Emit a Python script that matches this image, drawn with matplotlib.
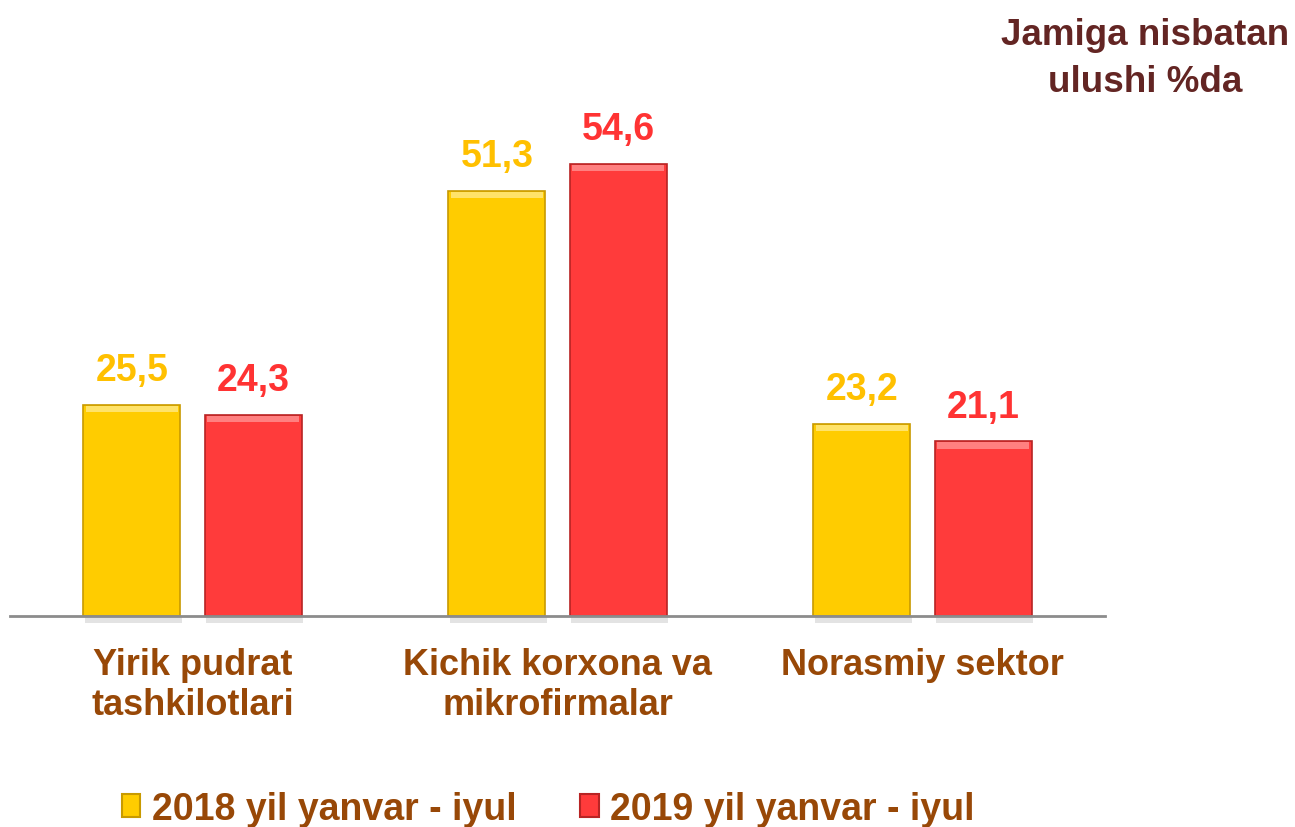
import numpy as np
import matplotlib.pyplot as plt
from matplotlib.patches import Rectangle

# Ma'lumotlar
categories = ['Yirik pudrat\ntashkilotlari', 'Kichik korxona va\nmikrofirmalar', 'Norasmiy sektor']
series_names = ['2018 yil yanvar - iyul', '2019 yil yanvar - iyul']
values_2018 = [25.5, 51.3, 23.2]
values_2019 = [24.3, 54.6, 21.1]
labels_2018 = ['25,5', '51,3', '23,2']
labels_2019 = ['24,3', '54,6', '21,1']

plt.rcParams['font.family'] = ['Liberation Sans', 'DejaVu Sans']

yellow, yellow_edge = '#FFCC00', '#C89A00'
red, red_edge = '#FF3B3B', '#B82424'
yellow_txt, red_txt = '#FFC000', '#FF3333'
brown = '#984807'

fig = plt.figure(figsize=(12.95, 8.28), dpi=100)
ax = fig.add_axes([10 / 1295, 1 - 617 / 828, 1095 / 1295, 517 / 828])

x = np.arange(len(categories))
w = 0.266
off = 0.166

# Soyalar (bar ostidagi kulrang soya)
for xs in (x - off, x + off):
    for xi in xs:
        ax.add_patch(Rectangle((xi - w / 2 + 0.004, -0.8), w, 0.8, color='#C8C8C8',
                               alpha=0.5, lw=0, zorder=1, clip_on=False))

b1 = ax.bar(x - off, values_2018, w, color=yellow, edgecolor=yellow_edge, lw=1.2, zorder=2)
b2 = ax.bar(x + off, values_2019, w, color=red, edgecolor=red_edge, lw=1.2, zorder=2)

# yorug' qirra (bevel effekti)
for bars, light in ((b1, '#FFE36A'), (b2, '#FF8080')):
    for b in bars:
        bx, bw, bh = b.get_x(), b.get_width(), b.get_height()
        ax.add_patch(Rectangle((bx + 0.006, bh - 0.9), bw - 0.012, 0.75, color=light,
                               lw=0, zorder=3))

for xi, v, t in zip(x - off, values_2018, labels_2018):
    ax.text(xi, v + 2.0, t, ha='center', va='bottom', fontsize=27,
            fontweight='bold', color=yellow_txt)
for xi, v, t in zip(x + off, values_2019, labels_2019):
    ax.text(xi, v + 2.0, t, ha='center', va='bottom', fontsize=27,
            fontweight='bold', color=red_txt)

ax.set_xlim(-0.5, 2.5)
ax.set_ylim(0, 62.4)
for s in ['top', 'right', 'left']:
    ax.spines[s].set_visible(False)
ax.spines['bottom'].set_color('#8C8C8C')
ax.spines['bottom'].set_linewidth(2)
ax.set_yticks([])
ax.set_xticks(x)
ax.set_xticklabels(categories, fontsize=26, fontweight='bold', color=brown, linespacing=1.22)
ax.tick_params(axis='x', length=0, pad=22)

fig.text(1145 / 1295, 1 - 59 / 828, 'Jamiga nisbatan\nulushi %da', ha='center', va='center',
         multialignment='center', fontsize=26.5, fontweight='bold', color='#632523',
         linespacing=1.42)

# Legenda
handles = [Rectangle((0, 0), 1, 1, facecolor=yellow, edgecolor=yellow_edge, lw=1.5),
           Rectangle((0, 0), 1, 1, facecolor=red, edgecolor=red_edge, lw=1.5)]
leg = fig.legend(handles, series_names, loc='center', bbox_to_anchor=(548 / 1295, 1 - 810 / 828),
                 ncol=2, frameon=False, handlelength=0.5, handleheight=0.56, handletextpad=0.3,
                 columnspacing=1.7, prop={'family': ['Liberation Sans Narrow', 'Liberation Sans'],
                                          'weight': 'bold', 'size': 27})
for t in leg.get_texts():
    t.set_color(brown)

fig.savefig('out.png', dpi=100)
